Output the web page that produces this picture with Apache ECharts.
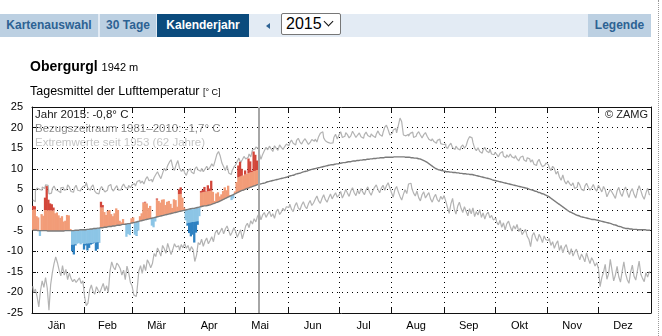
<!DOCTYPE html>
<html>
<head>
<meta charset="utf-8">
<script src="https://cdn.jsdelivr.net/npm/echarts@6/dist/echarts.min.js"></script>
<style>
  html, body { margin: 0; padding: 0; background: #fff; }
  body { width: 662px; height: 336px; overflow: hidden; position: relative;
         font-family: "Liberation Sans", Arial, Helvetica, sans-serif; }
  #chart { position: absolute; left: 0; top: 0; width: 662px; height: 336px; }
  .overlay { position: absolute; z-index: 2; white-space: nowrap; }
  .nav { left: 0; top: 14px; width: 651px; height: 23px; background: #e3ebf4; }
  .tab { position: absolute; top: 0; height: 23px; line-height: 23px; font-size: 12px;
         font-weight: bold; color: #2d6293; background: #bcd0e2; text-align: center; }
  .tab.active { background: #0b4b7d; color: #fff; }
  .arrow { position: absolute; left: 266px; top: 9px; width: 0; height: 0;
           border-top: 3px solid transparent; border-bottom: 3px solid transparent;
           border-right: 4px solid #2d6293; }
  .select { position: absolute; left: 281px; top: -1px; width: 58px; height: 20px;
            background: #fff; border: 1px solid #777; border-radius: 2px;
            font-size: 16px; line-height: 20px; color: #000; }
  .select span { position: absolute; left: 4px; top: 0; }
  .chev { position: absolute; left: 43px; top: 4px; width: 6px; height: 6px;
          border-right: 1.6px solid #111; border-bottom: 1.6px solid #111; transform: rotate(45deg); }
  .station { left: 30px; top: 58px; font-size: 14px; line-height: 16px; font-weight: bold; color: #000; }
  .station small { font-size: 11px; font-weight: normal; }
  .param { left: 30px; top: 84px; font-size: 12.5px; line-height: 15px; color: #000; }
  .param small { font-size: 9px; }
  .edge { left: 658px; top: 0; width: 0; height: 336px; border-left: 1px dotted #9a9a9a; }
</style>
</head>
<body>
<div id="chart"></div>

<div class="overlay nav">
  <div class="tab" style="left:0;width:98px;">Kartenauswahl</div>
  <div class="tab" style="left:100px;width:56px;">30 Tage</div>
  <div class="tab active" style="left:157px;width:92px;">Kalenderjahr</div>
  <div class="arrow"></div>
  <div class="select"><span>2015</span><div class="chev"></div></div>
  <div class="tab" style="left:588px;width:63px;">Legende</div>
</div>
<div class="overlay station">Obergurgl <small>1942 m</small></div>
<div class="overlay param">Tagesmittel der Lufttemperatur <small>[° C]</small></div>
<div class="overlay edge"></div>

<script>
// Calendar
const monthNames = ['Jän', 'Feb', 'Mär', 'Apr', 'Mai', 'Jun', 'Jul', 'Aug', 'Sep', 'Okt', 'Nov', 'Dez'];
const monthLengths = [31, 28, 31, 30, 31, 30, 31, 31, 30, 31, 30, 31];

// Temperature axis (°C)
const tempMin = -25;
const tempMax = 25;
const tempStep = 5;

// Highest daily mean since 1953, one value per day of the year
const recordHigh = [
  2.4,2.0,4.6,5.3,5.0,4.8,5.6,5.2,6.1,6.0,3.9,4.1,5.2,5.8,4.9,4.6,4.2,5.4,5.5,4.8,5.0,6.1,5.6,4.5,4.3,5.3,6.0,4.8,4.6,5.1,5.7,
  5.9,6.7,5.2,4.8,5.6,6.1,4.6,4.1,3.9,4.9,5.7,5.0,4.4,4.8,5.8,6.2,5.1,4.6,5.3,5.9,4.8,4.9,5.6,6.3,5.5,5.2,6.0,5.4,
  6.1,6.4,5.8,6.9,7.2,6.5,7.0,6.3,7.5,8.1,7.1,7.4,6.8,7.9,8.6,9.3,8.4,7.6,8.9,10.1,9.5,10.8,11.6,12.2,10.4,9.6,11.0,12.0,10.2,9.4,9.8,
  9.0,8.4,9.6,10.0,9.2,8.8,9.9,10.5,9.7,9.4,10.1,9.3,9.9,10.6,9.8,10.4,11.2,10.6,12.0,13.5,14.2,13.1,11.4,10.5,9.6,10.8,9.0,8.6,9.5,10.4,
  10.9,11.8,12.6,11.5,12.2,13.0,12.4,12.8,13.6,12.9,14.6,14.8,15.3,14.9,13.8,12.3,13.5,14.4,15.2,14.6,15.5,14.8,14.2,15.6,15.0,14.5,15.8,15.2,14.7,15.4,16.0,
  15.6,16.3,17.0,16.2,15.8,16.9,17.4,16.5,16.0,16.8,17.3,16.6,15.9,16.4,17.1,16.7,17.2,16.5,17.8,18.6,19.0,17.5,16.8,16.4,16.2,16.5,16.3,17.6,18.4,17.2,
  18.2,19.0,17.6,17.9,18.8,18.3,17.5,18.0,19.1,18.4,17.6,18.2,18.7,17.8,17.4,18.3,18.9,18.1,17.7,18.5,18.0,17.6,18.4,19.2,18.3,17.9,18.8,20.1,20.6,19.5,18.2,
  18.6,19.4,19.8,18.7,20.5,22.3,21.4,18.2,18.0,18.4,17.9,18.6,18.9,17.6,17.9,18.5,19.0,18.2,17.5,18.3,18.8,17.9,17.2,16.8,17.3,16.6,16.2,16.9,17.2,16.1,15.9,
  16.0,15.4,14.9,15.7,16.2,15.1,14.7,15.5,14.9,14.6,15.3,15.8,15.0,15.6,17.0,17.8,17.5,16.4,15.0,14.4,15.1,14.2,13.8,14.6,15.2,14.3,13.9,14.8,13.6,13.4,
  14.0,13.5,12.9,13.8,14.2,13.1,12.7,13.4,12.8,13.6,12.9,12.6,13.2,12.4,11.9,12.8,13.1,12.2,11.8,12.7,12.4,11.6,12.2,11.1,10.8,11.7,12.3,11.2,10.5,10.9,11.4,
  11.0,10.4,9.5,10.6,10.1,8.7,9.4,8.0,7.2,8.5,7.0,6.3,7.1,6.4,5.9,6.6,5.2,5.6,6.8,6.1,5.0,4.7,5.8,6.5,5.5,4.8,5.4,6.2,5.1,4.6,
  6.0,5.2,4.4,5.7,4.9,3.2,4.1,5.0,4.3,3.6,2.8,4.6,5.5,4.0,3.3,4.8,5.6,4.2,3.0,4.5,5.2,3.8,2.9,4.6,5.9,4.7,3.4,2.6,4.1,5.3,3.7
];

// Lowest daily mean since 1953
const recordLow = [
  -18.5,-20.0,-19.2,-21.0,-23.5,-19.6,-17.2,-18.8,-16.4,-19.0,-24.3,-18.1,-15.2,-13.0,-11.4,-12.8,-14.6,-16.0,-13.5,-15.8,-14.4,-16.9,-15.3,-16.6,-17.4,-16.8,-17.6,-17.0,-16.5,-17.8,-17.2,
  -21.0,-23.2,-22.6,-19.4,-18.2,-19.8,-20.4,-18.6,-19.5,-20.1,-18.9,-17.8,-19.6,-18.4,-20.0,-14.8,-12.6,-13.9,-14.5,-12.9,-13.4,-14.2,-15.8,-14.6,-16.9,-13.6,-15.2,-17.6,
  -18.4,-20.6,-21.0,-19.2,-14.8,-13.5,-15.4,-13.2,-14.7,-12.1,-12.9,-14.0,-13.0,-10.6,-11.3,-9.2,-10.1,-11.2,-8.6,-9.4,-10.5,-8.1,-9.5,-10.8,-9.6,-8.2,-9.0,-8.7,-9.8,-8.4,-9.2,
  -8.1,-9.3,-8.6,-10.0,-8.9,-9.6,-12.5,-11.0,-7.9,-8.4,-7.1,-8.8,-7.6,-6.8,-8.2,-7.4,-6.5,-7.7,-5.6,-4.9,-6.0,-5.2,-4.4,-5.8,-4.6,-3.9,-5.0,-6.2,-5.4,-4.3,
  -5.1,-6.6,-5.7,-4.8,-7.0,-5.5,-3.9,-3.2,-4.3,-2.6,-3.4,-2.1,-2.9,-1.5,-0.8,-2.4,-1.2,-0.6,-1.8,-1.0,-0.3,-1.6,-0.9,-2.0,-0.4,0.2,-1.1,-0.5,0.4,-0.2,0.8,
  0.6,1.4,0.2,-0.4,1.0,1.8,0.5,0.0,1.2,2.0,0.9,0.3,1.5,2.3,1.1,1.7,2.6,3.4,2.2,1.6,2.8,3.7,2.5,1.9,3.0,3.9,2.7,3.5,4.2,3.1,
  3.6,4.5,2.9,3.8,5.0,4.1,3.3,4.6,5.4,4.2,3.5,4.8,3.9,5.2,4.4,3.7,4.9,5.6,4.3,3.6,4.7,5.5,6.1,5.0,4.2,5.3,6.0,4.8,5.9,6.6,5.4,
  4.2,3.1,5.0,5.7,4.4,3.3,2.4,3.8,4.9,4.0,6.3,6.5,5.2,4.1,3.4,4.6,3.0,2.2,3.7,4.4,2.9,3.6,4.2,2.7,1.9,3.1,3.8,2.5,2.0,3.3,2.6,
  3.5,2.1,0.6,-0.8,1.5,2.8,0.2,-1.0,0.9,1.9,0.4,-0.6,0.8,-0.3,-1.4,0.3,-0.9,0.5,-1.6,-0.4,-1.2,0.1,-1.8,-0.7,-2.2,-1.0,-0.5,-1.9,-1.3,-2.4,
  -2.0,-2.9,-3.6,-2.5,-4.2,-3.1,-4.8,-3.3,-2.7,-4.0,-5.1,-3.8,-4.6,-3.5,-5.2,-4.4,-6.0,-5.3,-4.7,-6.4,-7.1,-8.9,-6.2,-5.5,-6.8,-7.6,-5.9,-6.7,-7.9,-6.3,-7.2,
  -7.4,-6.9,-8.6,-7.7,-9.3,-8.2,-7.5,-9.8,-8.6,-10.4,-9.1,-8.4,-9.9,-10.8,-9.4,-11.2,-10.2,-9.5,-10.9,-12.1,-10.7,-11.5,-12.6,-10.4,-11.8,-13.0,-11.6,-12.4,-13.6,-12.8,
  -14.2,-18.6,-16.4,-15.1,-13.2,-16.8,-15.5,-12.0,-14.6,-17.2,-15.8,-13.7,-16.2,-17.5,-14.9,-12.6,-15.4,-16.9,-17.8,-15.0,-13.4,-16.1,-17.0,-14.7,-12.4,-15.6,-16.6,-17.4,-15.2,-16.3,-15.0
];

// Reference period 1981-2010, daily mean
const normal8110 = [
  -4.9,-4.9,-4.9,-5.0,-5.0,-5.0,-5.0,-5.0,-5.0,-5.1,-5.1,-5.1,-5.1,-5.1,-5.1,-5.1,-5.1,-5.1,-5.1,-5.0,-5.0,-5.0,-5.0,-5.0,-5.0,-4.9,-4.9,-4.9,-4.8,-4.8,-4.8,
  -4.8,-4.7,-4.7,-4.6,-4.6,-4.5,-4.5,-4.4,-4.4,-4.3,-4.3,-4.2,-4.2,-4.1,-4.0,-4.0,-3.9,-3.9,-3.8,-3.7,-3.7,-3.6,-3.5,-3.5,-3.4,-3.3,-3.3,-3.2,
  -3.1,-3.0,-2.9,-2.8,-2.7,-2.6,-2.5,-2.4,-2.3,-2.2,-2.1,-2.0,-1.9,-1.8,-1.7,-1.6,-1.5,-1.4,-1.3,-1.2,-1.1,-1.0,-0.9,-0.8,-0.7,-0.6,-0.5,-0.4,-0.3,-0.2,-0.1,
  0.0,0.1,0.2,0.3,0.4,0.4,0.5,0.6,0.7,0.8,0.9,1.0,1.0,1.1,1.2,1.3,1.5,1.6,1.8,1.9,2.1,2.3,2.5,2.7,2.9,3.1,3.3,3.5,3.7,3.9,
  4.1,4.3,4.5,4.7,4.8,5.0,5.2,5.3,5.5,5.6,5.8,5.9,6.1,6.2,6.3,6.4,6.5,6.6,6.8,6.9,7.0,7.1,7.2,7.3,7.4,7.5,7.6,7.7,7.8,7.9,8.0,
  8.2,8.3,8.4,8.5,8.7,8.8,8.9,9.0,9.2,9.3,9.4,9.5,9.7,9.8,9.9,10.0,10.1,10.2,10.3,10.4,10.5,10.6,10.7,10.8,10.9,11.0,11.0,11.1,11.2,11.2,
  11.3,11.4,11.5,11.5,11.6,11.7,11.7,11.8,11.9,11.9,12.0,12.0,12.1,12.1,12.2,12.2,12.3,12.3,12.4,12.4,12.5,12.5,12.6,12.6,12.7,12.7,12.7,12.8,12.8,12.8,12.8,
  12.8,12.9,12.9,12.9,12.9,12.9,12.9,12.9,12.8,12.8,12.8,12.7,12.7,12.6,12.6,12.5,12.4,12.3,12.1,11.9,11.7,11.4,11.1,10.8,10.5,10.2,10.0,9.8,9.7,9.6,9.5,
  9.4,9.3,9.3,9.2,9.2,9.1,9.1,9.0,9.0,8.9,8.9,8.8,8.8,8.7,8.7,8.6,8.6,8.5,8.4,8.3,8.2,8.1,8.0,7.9,7.8,7.7,7.6,7.5,7.3,7.2,
  7.1,7.0,6.9,6.8,6.7,6.6,6.5,6.4,6.3,6.2,6.1,6.0,5.9,5.8,5.7,5.6,5.5,5.4,5.3,5.2,5.0,4.9,4.8,4.6,4.5,4.3,4.2,4.0,3.9,3.7,3.5,
  3.3,3.0,2.7,2.4,2.1,1.8,1.5,1.2,0.9,0.6,0.3,0.0,-0.3,-0.5,-0.7,-0.9,-1.1,-1.3,-1.4,-1.6,-1.7,-1.8,-1.9,-2.0,-2.1,-2.2,-2.3,-2.3,-2.4,-2.5,
  -2.6,-2.7,-2.8,-2.9,-3.0,-3.1,-3.2,-3.3,-3.5,-3.6,-3.7,-3.9,-4.0,-4.1,-4.3,-4.4,-4.5,-4.5,-4.6,-4.6,-4.7,-4.7,-4.7,-4.8,-4.8,-4.8,-4.8,-4.8,-4.9,-4.9,-4.9
];

// Daily means 2015 (1 Jan - 13 May)
const temp2015 = [
  1.0,0.9,-1.5,-1.8,-6.3,-1.0,-1.4,3.0,5.8,2.5,1.6,1.4,0.6,-0.8,-0.6,-1.3,-1.9,-1.5,-2.8,-2.6,-1.2,-1.3,-4.6,-10.0,-10.8,-8.6,-8.2,-8.0,-8.3,-8.1,-9.6,
  -8.6,-9.8,-9.2,-8.4,-8.2,-8.0,-9.9,-9.5,-7.9,2.0,1.2,-0.5,-1.2,-0.2,0.0,-1.0,-1.5,-0.8,0.4,0.0,-2.6,-3.0,-2.2,-3.3,-6.5,-5.8,-6.1,-2.0,
  -1.8,-6.0,-6.3,-5.0,-1.5,-0.8,1.8,2.0,1.6,0.5,1.0,-3.8,-4.2,-2.8,2.8,2.2,1.8,2.5,2.6,1.2,2.0,2.2,1.5,0.5,2.6,2.4,0.8,5.0,5.5,3.0,0.6,
  -2.5,-3.8,-5.6,-6.4,-6.0,-7.9,-5.5,-3.6,-1.5,4.6,4.9,5.6,4.5,6.0,5.2,7.1,4.4,2.2,4.0,4.3,3.3,3.8,4.6,5.5,4.8,5.9,3.6,2.4,2.8,4.5,
  6.8,10.8,11.7,10.0,8.4,9.6,8.8,12.5,11.8,9.5,14.2,13.4,12.0
];

// Deviation from the normal beyond which a day is shaded dark (per month, Jän-Mai)
const warmSpread = [5.0, 4.9, 4.2, 3.4, 3.6];
const coldSpread = [3.4, 3.4, 3.3, 3.3, 3.3];

// Summary lines
const legendLines = ['Jahr 2015: -0,8° C', 'Bezugszeitraum 1981–2010: -1,7° C', 'Extremwerte seit 1953 (62 Jahre)'];
const creditText = '© ZAMG';

// ---------------------------------------------------------------------------
const FONT = '"Liberation Sans", Arial, Helvetica, sans-serif';
const WARM_LIGHT = '#f29c78';
const WARM_DARK = '#d2463a';
const COLD_LIGHT = '#8cc5e6';
const COLD_DARK = '#2f82c2';

const monthStarts = [];
const monthOfDay = [];
let acc = 0;
monthLengths.forEach((len, m) => {
  monthStarts.push(acc);
  for (let k = 0; k < len; k++) monthOfDay.push(m);
  acc += len;
});
const dayCount = acc;
const startSet = new Set(monthStarts);
const labelAt = {};
monthStarts.forEach((s, m) => { labelAt[s + Math.floor(monthLengths[m] / 2) - 1] = monthNames[m]; });

const days = Array.from({ length: dayCount }, (_, i) => String(i));

const anomalyData = temp2015.map((v, i) => {
  const m = monthOfDay[i];
  const base = normal8110[i];
  return [i, v, base, base + warmSpread[m], base - coldSpread[m]];
});

function renderAnomaly(params, api) {
  const day = api.value(0);
  const v = api.value(1);
  const base = api.value(2);
  const hi = api.value(3);
  const lo = api.value(4);
  const w = api.size([1, 0])[0];
  const x0 = api.coord([day, 0])[0] - w / 2;
  const seg = (a, b, color) => {
    const ya = api.coord([day, a])[1];
    const yb = api.coord([day, b])[1];
    return {
      type: 'rect',
      shape: { x: x0, y: Math.min(ya, yb), width: w + 0.6, height: Math.abs(ya - yb) },
      style: { fill: color }
    };
  };
  const children = [];
  if (v >= base) {
    children.push(seg(base, Math.min(v, hi), WARM_LIGHT));
    if (v > hi) children.push(seg(hi, v, WARM_DARK));
  } else {
    children.push(seg(base, Math.max(v, lo), COLD_LIGHT));
    if (v < lo) children.push(seg(lo, v, COLD_DARK));
  }
  return { type: 'group', children };
}

const monthTick = (i) => startSet.has(i);
const dotted = { type: [1, 4], color: '#000', width: 1 };
const frame = { show: true, onZero: false, lineStyle: { color: '#111', width: 1 } };

const chart = echarts.init(document.getElementById('chart'), null, { renderer: 'canvas' });
chart.setOption({
  animation: false,
  backgroundColor: '#fff',
  textStyle: { fontFamily: FONT },
  grid: { left: 32, right: 11, top: 107, bottom: 23, containLabel: false },
  xAxis: [
    {
      type: 'category', data: days, boundaryGap: true, position: 'bottom',
      axisLine: frame,
      axisTick: { show: true, inside: true, length: 5, interval: monthTick, lineStyle: { color: '#111' } },
      axisLabel: {
        show: true, interval: (i) => labelAt[i] !== undefined,
        formatter: (val, i) => labelAt[i] || '', fontSize: 11, color: '#000', margin: 7, fontFamily: FONT
      },
      splitLine: { show: true, interval: monthTick, lineStyle: dotted }
    },
    {
      type: 'category', data: days, boundaryGap: true, position: 'top',
      axisLine: frame,
      axisTick: { show: true, inside: true, length: 5, interval: monthTick, lineStyle: { color: '#111' } },
      axisLabel: { show: false }, splitLine: { show: false }
    }
  ],
  yAxis: [
    {
      type: 'value', min: tempMin, max: tempMax, interval: tempStep, position: 'left',
      axisLine: frame,
      axisTick: { show: true, inside: true, length: 4, lineStyle: { color: '#111' } },
      axisLabel: { fontSize: 11, color: '#000', margin: 9, fontFamily: FONT },
      splitLine: { show: true, lineStyle: dotted }
    },
    {
      type: 'value', min: tempMin, max: tempMax, interval: tempStep, position: 'right',
      axisLine: frame,
      axisTick: { show: true, inside: true, length: 4, lineStyle: { color: '#111' } },
      axisLabel: { show: false }, splitLine: { show: false }
    }
  ],
  series: [
    {
      name: 'Maximum', type: 'line', data: recordHigh, step: 'middle', symbol: 'none',
      lineStyle: { color: '#b3b3b3', width: 1.2 }, z: 2, silent: true
    },
    {
      name: 'Minimum', type: 'line', data: recordLow, step: 'middle', symbol: 'none',
      lineStyle: { color: '#b3b3b3', width: 1.2 }, z: 2, silent: true
    },
    {
      name: '2015', type: 'custom', renderItem: renderAnomaly, data: anomalyData,
      encode: { x: 0, y: 1 }, z: 3, silent: true
    },
    {
      name: '1981–2010', type: 'line', data: normal8110, symbol: 'none', smooth: true,
      lineStyle: { color: '#7b7b7b', width: 1.4 }, z: 4, silent: true,
      markLine: {
        silent: true, symbol: 'none', label: { show: false },
        lineStyle: { color: '#a6a6a6', width: 2, type: 'solid' },
        data: [{ xAxis: temp2015.length }]
      }
    }
  ],
  graphic: [
    { type: 'text', left: 35, top: 109, style: { text: legendLines[0], font: '11.5px ' + FONT, fill: '#1a1a1a' } },
    { type: 'text', left: 35, top: 123, style: { text: legendLines[1], font: '11.5px ' + FONT, fill: '#8c8c8c' } },
    { type: 'text', left: 35, top: 137, style: { text: legendLines[2], font: '11.5px ' + FONT, fill: '#c6c6c6' } },
    { type: 'text', right: 14, top: 109, style: { text: creditText, font: '11px ' + FONT, fill: '#222' } }
  ]
});
</script>
</body>
</html>
